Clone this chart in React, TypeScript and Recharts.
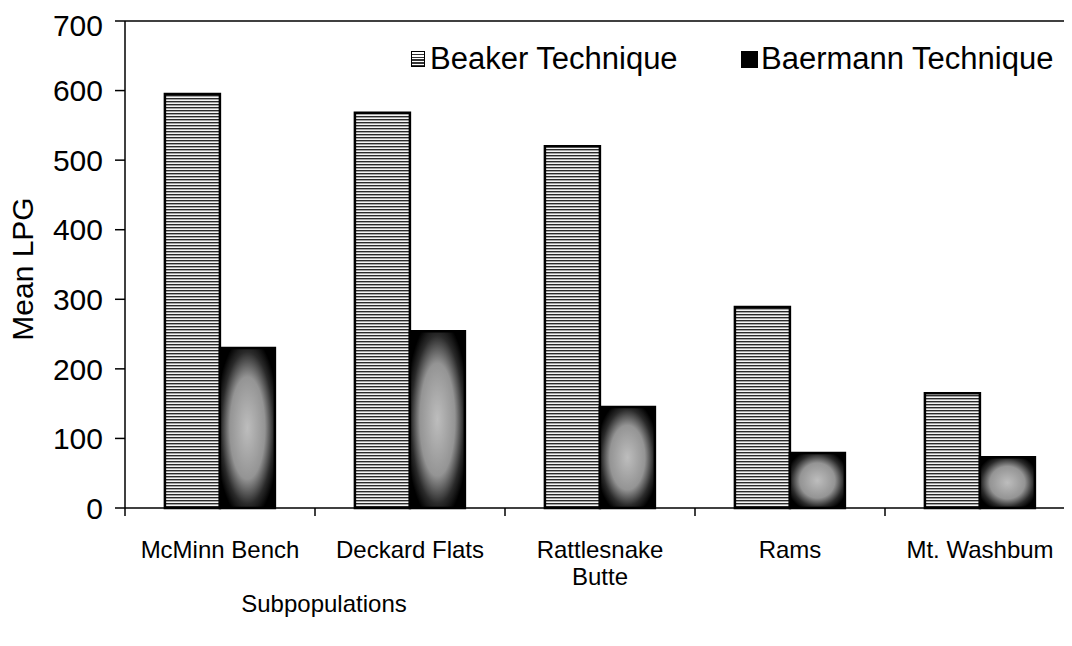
import React from 'react';
import { BarChart, Bar, XAxis, YAxis, ReferenceLine, Legend } from 'recharts';

const categories = ['McMinn Bench', 'Deckard Flats', 'Rattlesnake Butte', 'Rams', 'Mt. Washbum'];
const beakerValues = [595, 568, 520, 289, 165];
const baermannValues = [230, 254, 145, 79, 73];
const yTicks = [0, 100, 200, 300, 400, 500, 600, 700];

const data = categories.map((name, i) => ({
  name,
  beaker: beakerValues[i],
  baermann: baermannValues[i],
}));

const CHART_W = 1067;
const CHART_H = 638;
const Y_W = 117;
const BAND = (CHART_W - Y_W) / categories.length;
const FONT = '"Liberation Sans", Arial, sans-serif';

const XTick = (props: any) => {
  const { x, y, payload } = props;
  const label: string = payload.value;
  const lines = label.length > 14 ? label.split(' ') : [label];
  return (
    <g>
      <line x1={x - BAND / 2} x2={x - BAND / 2} y1={y} y2={y + 8} stroke="#000" strokeWidth={1.5} />
      {lines.map((ln, i) => (
        <text
          key={i}
          x={x}
          y={y + 50 + i * 27}
          textAnchor="middle"
          fontSize={24}
          fontFamily={FONT}
          fill="#000"
        >
          {ln}
        </text>
      ))}
    </g>
  );
};

const YLabel = () => (
  <text
    x={17}
    y={261}
    transform="rotate(-90 17 261)"
    textAnchor="middle"
    dominantBaseline="middle"
    fontSize={30}
    fontFamily={FONT}
    fill="#000"
  >
    Mean LPG
  </text>
);

const XLabel = () => (
  <text
    x={316}
    y={598}
    textAnchor="middle"
    dominantBaseline="middle"
    fontSize={24}
    fontFamily={FONT}
    fill="#000"
  >
    Subpopulations
  </text>
);

const renderLegend = () => (
  <div style={{ display: 'flex', alignItems: 'center', fontFamily: FONT, fontSize: 31, color: '#000' }}>
    <div style={{ display: 'flex', alignItems: 'center', width: 330 }}>
      <span
        style={{
          width: 12,
          height: 14,
          border: '1.5px solid #000',
          marginRight: 5,
          background: 'repeating-linear-gradient(#fff 0px, #fff 1.5px, #333 1.5px, #333 3px)',
        }}
      />
      <span>Beaker Technique</span>
    </div>
    <div style={{ display: 'flex', alignItems: 'center' }}>
      <span style={{ width: 17, height: 17, background: '#000', marginRight: 3 }} />
      <span>Baermann Technique</span>
    </div>
  </div>
);

export default function App() {
  return (
    <div style={{ width: 1064, height: CHART_H, overflow: 'hidden' }}>
      <BarChart
        width={CHART_W}
        height={CHART_H}
        data={data}
        margin={{ top: 13, right: 0, left: 0, bottom: 0 }}
        barCategoryGap="21%"
        barGap={0}
      >
        <defs>
          <pattern id="stripes" patternUnits="userSpaceOnUse" width="6" height="3">
            <rect width="6" height="3" fill="#f4f4f4" />
            <rect width="6" height="1.4" fill="#2a2a2a" />
          </pattern>
          <radialGradient id="speckle" cx="50%" cy="50%" r="58%">
            <stop offset="0%" stopColor="#bdbdbd" />
            <stop offset="55%" stopColor="#949494" />
            <stop offset="82%" stopColor="#2a2a2a" />
            <stop offset="100%" stopColor="#000" />
          </radialGradient>
        </defs>
        <XAxis
          dataKey="name"
          height={138}
          tickSize={0}
          tickMargin={0}
          tick={<XTick />}
          axisLine={{ stroke: '#000', strokeWidth: 1.5 }}
          interval={0}
          label={<XLabel />}
        />
        <YAxis
          width={Y_W}
          domain={[0, 700]}
          ticks={yTicks}
          tickSize={10}
          tickMargin={12}
          tick={{ fill: '#000', fontSize: 30, fontFamily: FONT }}
          tickLine={{ stroke: '#000', strokeWidth: 1.5 }}
          axisLine={{ stroke: '#000', strokeWidth: 1.5 }}
          label={<YLabel />}
        />
        <ReferenceLine y={700} stroke="#000" strokeWidth={1.5} />
        <Legend
          layout="horizontal"
          verticalAlign="middle"
          align="center"
          wrapperStyle={{ top: 33, left: 403, width: 'auto' }}
          content={renderLegend}
        />
        <Bar dataKey="beaker" name="Beaker Technique" fill="url(#stripes)" stroke="#000" strokeWidth={2.5} isAnimationActive={false} />
        <Bar dataKey="baermann" name="Baermann Technique" fill="url(#speckle)" stroke="#000" strokeWidth={2.5} isAnimationActive={false} />
      </BarChart>
    </div>
  );
}
